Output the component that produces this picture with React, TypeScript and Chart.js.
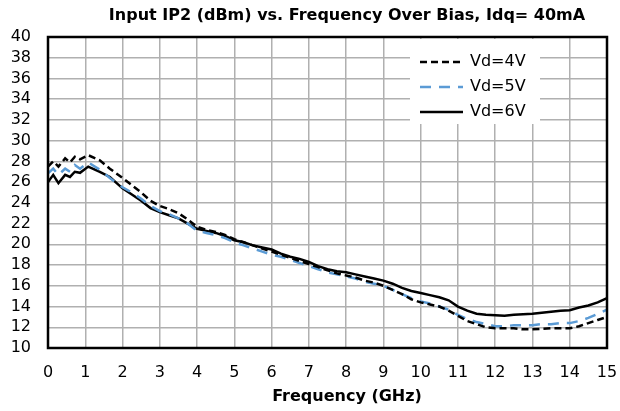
import React, { useEffect, useRef } from "react";
import { Chart, registerables } from "chart.js";
Chart.register(...registerables);

const chartTitle = "Input IP2 (dBm) vs. Frequency Over Bias, Idq= 40mA";
const xAxisTitle = "Frequency (GHz)";
const seriesLabels = ["Vd=4V", "Vd=5V", "Vd=6V"];

const freqGHz = [
  0, 0.14, 0.28, 0.46, 0.59, 0.72, 0.86, 1.08, 1.39, 1.66,
  2.0, 2.25, 2.5, 2.75, 3.0, 3.25, 3.5, 3.75, 4.0, 4.25, 4.5, 4.75,
  5.0, 5.25, 5.5, 5.75, 6.0, 6.25, 6.5, 6.75, 7.0, 7.25, 7.5, 7.75,
  8.0, 8.25, 8.5, 8.75, 9.0, 9.25, 9.5, 9.75, 10.0, 10.25, 10.5, 10.75,
  11.0, 11.25, 11.5, 11.75, 12.0, 12.25, 12.5, 12.75, 13.0, 13.25, 13.5, 13.75,
  14.0, 14.25, 14.5, 14.75, 15.0,
];

const vd4 = [
  27.5, 28.0, 27.5, 28.3, 27.9, 28.45, 28.2, 28.6, 28.1, 27.3,
  26.4, 25.7, 25.0, 24.2, 23.7, 23.4, 23.0, 22.4, 21.7, 21.4, 21.2, 20.9,
  20.5, 20.2, 19.9, 19.6, 19.3, 19.0, 18.7, 18.4, 18.1, 17.8, 17.5, 17.2,
  17.0, 16.8, 16.5, 16.3, 16.0, 15.6, 15.2, 14.7, 14.4, 14.2, 14.0, 13.6,
  13.1, 12.6, 12.3, 12.0, 11.9, 11.9, 11.9, 11.8, 11.8, 11.85, 11.9, 11.9,
  11.9, 12.1, 12.4, 12.7, 13.0,
];

const vd5 = [
  26.85, 27.3, 26.7, 27.3, 27.0, 27.65, 27.3, 27.9, 27.2, 26.4,
  25.5, 25.0, 24.4, 23.7, 23.2, 22.9, 22.5, 22.0, 21.3, 21.1, 20.9, 20.6,
  20.2, 19.9, 19.6, 19.3, 19.0, 18.8, 18.5, 18.2, 17.9, 17.6, 17.3, 17.1,
  16.9, 16.7, 16.4, 16.2, 16.0, 15.6, 15.2, 14.8, 14.5, 14.3, 14.0, 13.7,
  13.2, 12.8, 12.5, 12.3, 12.1, 12.1, 12.2, 12.2, 12.2, 12.3, 12.3, 12.4,
  12.4, 12.6, 12.9, 13.3, 13.7,
];

const vd6 = [
  26.0, 26.7, 25.9, 26.7, 26.5, 27.0, 26.9, 27.5, 27.0, 26.5,
  25.4, 24.8, 24.2, 23.5, 23.1, 22.8, 22.5, 22.0, 21.5, 21.3, 21.1, 20.8,
  20.4, 20.2, 19.9, 19.7, 19.5, 19.1, 18.8, 18.6, 18.3, 17.9, 17.6, 17.4,
  17.3, 17.1, 16.9, 16.7, 16.5, 16.2, 15.8, 15.5, 15.3, 15.1, 14.9, 14.6,
  14.0, 13.6, 13.3, 13.2, 13.15, 13.1, 13.2, 13.25, 13.3, 13.4, 13.5, 13.6,
  13.65, 13.9, 14.1, 14.4, 14.8,
];

const FONT = "'DejaVu Sans', sans-serif";

const toPoints = (ys: number[]) => freqGHz.map((x, i) => ({ x, y: ys[i] }));

const frameAndText = {
  id: "frameAndText",
  beforeDatasetsDraw(chart: any) {
    const { ctx, chartArea } = chart;
    ctx.save();
    ctx.fillStyle = "#ffffff";
    ctx.fillRect(chartArea.left + 362, chartArea.top + 2, 130, 85);
    ctx.restore();
  },
  afterDraw(chart: any) {
    const { ctx, chartArea } = chart;
    ctx.save();
    ctx.strokeStyle = "#000";
    ctx.lineWidth = 2.5;
    ctx.strokeRect(chartArea.left, chartArea.top, chartArea.right - chartArea.left, chartArea.bottom - chartArea.top);

    ctx.fillStyle = "#000";
    ctx.textAlign = "center";
    ctx.textBaseline = "middle";
    ctx.font = `bold 16px ${FONT}`;
    ctx.fillText(chartTitle, 347, 16);
    ctx.font = `bold 16px ${FONT}`;
    ctx.fillText(xAxisTitle, 347, 397);

    const lx = chartArea.left + 372;
    const rows = [chartArea.top + 25, chartArea.top + 50, chartArea.top + 75];
    chart.data.datasets.forEach((ds: any, i: number) => {
      ctx.beginPath();
      ctx.setLineDash(ds.borderDash || []);
      ctx.strokeStyle = ds.borderColor;
      ctx.lineWidth = ds.borderWidth;
      ctx.moveTo(lx, rows[i]);
      ctx.lineTo(lx + 43, rows[i]);
      ctx.stroke();
      ctx.setLineDash([]);
      ctx.fillStyle = "#000";
      ctx.textAlign = "left";
      ctx.font = `16px ${FONT}`;
      ctx.fillText(ds.label, lx + 50, rows[i]);
    });
    ctx.restore();
  },
};

export default function App() {
  const ref = useRef<HTMLCanvasElement>(null);
  useEffect(() => {
    document.body.style.margin = "0";
    const chart = new Chart(ref.current as HTMLCanvasElement, {
      type: "line",
      data: {
        datasets: [
          {
            label: seriesLabels[0],
            data: toPoints(vd4),
            borderColor: "#000000",
            borderWidth: 2.5,
            borderDash: [7, 4],
            pointRadius: 0,
            tension: 0,
          },
          {
            label: seriesLabels[1],
            data: toPoints(vd5),
            borderColor: "#5b9bd5",
            borderWidth: 2.5,
            borderDash: [11, 8],
            pointRadius: 0,
            tension: 0,
          },
          {
            label: seriesLabels[2],
            data: toPoints(vd6),
            borderColor: "#000000",
            borderWidth: 2.5,
            pointRadius: 0,
            tension: 0,
          },
        ],
      },
      options: {
        animation: false,
        responsive: false,
        layout: { padding: { left: 0, top: 37, right: 13, bottom: 0 } },
        plugins: { legend: { display: false }, title: { display: false }, tooltip: { enabled: false } },
        scales: {
          x: {
            type: "linear",
            min: 0,
            max: 15,
            ticks: { stepSize: 1, autoSkip: false, color: "#000", font: { family: FONT, size: 16 }, padding: 15, maxRotation: 0 },
            grid: { color: "#b0b0b0", lineWidth: 1.5, drawTicks: false },
            border: { display: false },
            afterFit: (s: any) => { s.height = 63; s.paddingLeft = 0; s.paddingRight = 0; },
          },
          y: {
            type: "linear",
            min: 10,
            max: 40,
            ticks: { stepSize: 2, autoSkip: false, color: "#000", font: { family: FONT, size: 16 }, padding: 17 },
            grid: { color: "#b0b0b0", lineWidth: 1.5, drawTicks: false },
            border: { display: false },
            afterFit: (s: any) => { s.width = 48; s.paddingTop = 0; s.paddingBottom = 0; },
          },
        },
      },
      plugins: [frameAndText],
    });
    return () => chart.destroy();
  }, []);
  return <canvas ref={ref} width={620} height={411} style={{ display: "block" }} />;
}
